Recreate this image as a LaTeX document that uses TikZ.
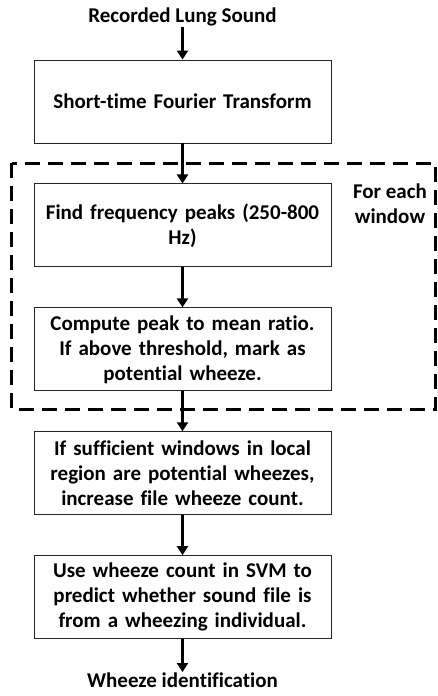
\documentclass[tikz,border=0pt]{standalone}
\usepackage{fontspec}
\setmainfont{Carlito}[Ligatures=NoCommon]
\usetikzlibrary{positioning,calc,arrows.meta}

\begin{document}
\begin{tikzpicture}[
  x=1pt, y=1pt, font=\bfseries\fontsize{21}{25}\selectfont, node distance=40pt,
  stepbox/.style={draw=black!85, line width=0.9pt, minimum width=297pt, minimum height=83pt, text width=288pt, align=center, inner sep=1pt},
  term/.style={inner sep=1pt},
  arr/.style={-{Triangle[length=9pt,width=11pt]}, line width=2.6pt},
  winbox/.style={dash pattern=on 15pt off 8pt, line width=2.6pt},
  lab/.style={align=center, inner sep=0pt}]

\useasboundingbox (0,0) rectangle (437,-696);

% main chain
\node[term] (sound) at (182.5,-17) {Recorded Lung Sound};
\node[stepbox] (stft) at (182.5,-101.5) {Short-time Fourier Transform};
\node[stepbox, below=of stft] (peaks) {Find frequency peaks (250-800\\Hz)};
\node[stepbox, below=of peaks] (ratio) {Compute peak to mean ratio.\\If above threshold, mark as\\potential wheeze.};
\node[stepbox, below=of ratio] (count) {If sufficient windows in local\\region are potential wheezes,\\increase file wheeze count.};
\node[stepbox, below=of count] (svm) {Use wheeze count in SVM to\\predict whether sound file is\\from a wheezing individual.};
\node[term, below=33pt of svm] (ident) {Wheeze identification};

\draw[arr] (sound) -- (stft); \draw[arr] (stft) -- (peaks); \draw[arr] (peaks) -- (ratio);
\draw[arr] (ratio) -- (count); \draw[arr] (count) -- (svm); \draw[arr] (svm) -- (ident);

% per-window loop
\node[lab] (each) at (390,-204) {For each\\window};
\draw[winbox] ($(peaks.north west)+(-22pt,20pt)$) rectangle ($(ratio.south east)+(104pt,-18pt)$);
\end{tikzpicture}
\end{document}
